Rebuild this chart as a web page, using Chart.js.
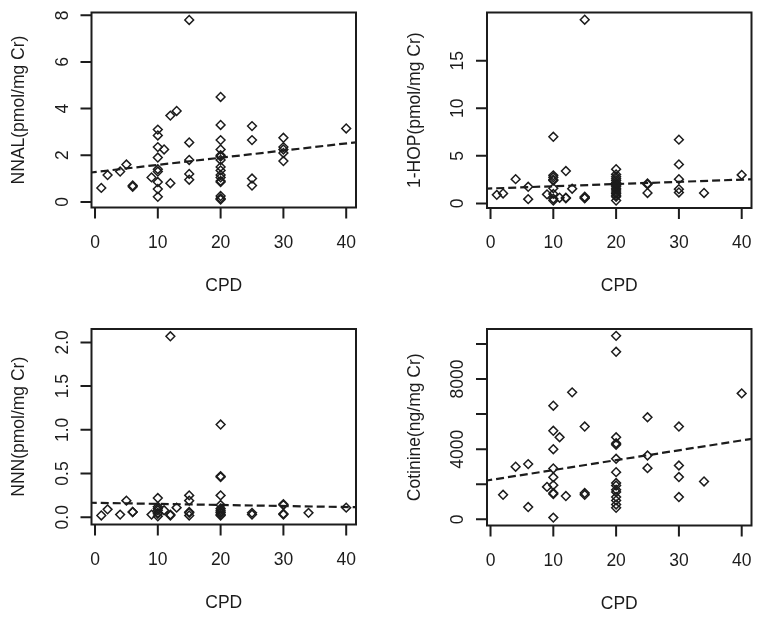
<!DOCTYPE html>
<html>
<head>
<meta charset="utf-8">
<script src="https://cdn.jsdelivr.net/npm/chart.js@4.4.0/dist/chart.umd.min.js"></script>
<style>
  body { margin: 0; background: #fff; }
  #wrap { position: relative; width: 762px; height: 617px; }
  canvas { position: absolute; }
</style>
</head>
<body>
<div id="wrap">
  <canvas id="nnal" width="381" height="308" style="left:0;top:0"></canvas>
  <canvas id="hop" width="381" height="308" style="left:381px;top:0"></canvas>
  <canvas id="nnn" width="381" height="309" style="left:0;top:308px"></canvas>
  <canvas id="cot" width="381" height="309" style="left:381px;top:308px"></canvas>
</div>
<script>
// shared x axis (cigarettes per day)
const xTicks = [0, 10, 20, 30, 40];
const xTickLabels = ['0', '10', '20', '30', '40'];
const xLimits = [-0.56, 41.56];
const trendX = [-1, 43];

// NNAL
const nnalCpd = [1, 2, 4, 5, 6, 6, 9,
  10, 10, 10, 10, 10, 10, 10, 10, 10,
  11, 12, 12, 13,
  15, 15, 15, 15, 15,
  20, 20, 20, 20, 20, 20, 20, 20, 20, 20, 20, 20, 20, 20, 20, 20,
  25, 25, 25, 25,
  30, 30, 30, 30, 30,
  40];
const nnalValues = [0.6, 1.15, 1.3, 1.6, 0.65, 0.7, 1.05,
  3.1, 2.85, 2.35, 1.9, 1.4, 1.3, 0.85, 0.55, 0.22,
  2.25, 3.7, 0.8, 3.9,
  7.8, 2.55, 1.8, 1.2, 0.95,
  4.5, 3.3, 2.65, 2.25, 2.0, 1.95, 1.8, 1.5, 1.35, 1.15, 1.05, 0.9, 0.85, 0.25, 0.15, 0.1,
  3.25, 2.65, 1.0, 0.7,
  2.75, 2.35, 2.25, 2.1, 1.75,
  3.15];
const nnalTrend = [1.25, 2.6];
const nnalTicks = [0, 2, 4, 6, 8];
const nnalTickLabels = ['0', '2', '4', '6', '8'];
const nnalLimits = [-0.24, 8.12];

// 1-HOP
const hopCpd = [1, 2, 4, 6, 6, 9,
  10, 10, 10, 10, 10, 10, 10, 10, 10,
  11, 12, 12, 12, 13,
  15, 15, 15, 15,
  20, 20, 20, 20, 20, 20, 20, 20, 20, 20, 20, 20, 20, 20, 20, 20,
  25, 25, 25,
  30, 30, 30, 30, 30,
  34, 40];
const hopValues = [0.9, 1.05, 2.55, 1.75, 0.45, 0.95,
  7.0, 2.95, 2.75, 2.5, 2.4, 1.6, 1.0, 0.5, 0.3,
  0.6, 3.4, 0.6, 0.55, 1.55,
  19.3, 0.7, 0.6, 0.55,
  3.6, 3.05, 2.8, 2.6, 2.4, 2.2, 2.05, 1.9, 1.75, 1.55, 1.4, 1.2, 1.05, 0.85, 0.7, 0.3,
  2.1, 2.0, 1.1,
  6.7, 4.1, 2.55, 1.5, 1.15,
  1.1, 3.0];
const hopTrend = [1.55, 2.57];
const hopTicks = [0, 5, 10, 15];
const hopTickLabels = ['0', '5', '10', '15'];
const hopLimits = [-0.48, 20.06];

// NNN
const nnnCpd = [1, 2, 4, 5, 6, 6, 9,
  10, 10, 10, 10, 10, 10, 10,
  11, 12, 12, 12, 13,
  15, 15, 15, 15, 15,
  20, 20, 20, 20, 20, 20, 20, 20, 20, 20, 20,
  25, 25,
  30, 30, 30, 30,
  34, 40];
const nnnValues = [0.02, 0.09, 0.03, 0.19, 0.06, 0.06, 0.03,
  0.22, 0.12, 0.1, 0.08, 0.05, 0.04, 0.01,
  0.08, 2.07, 0.03, 0.02, 0.11,
  0.25, 0.19, 0.06, 0.05, 0.02,
  1.06, 0.47, 0.46, 0.25, 0.14, 0.1, 0.08, 0.06, 0.05, 0.03, 0.02,
  0.05, 0.03,
  0.15, 0.14, 0.04, 0.03,
  0.05, 0.11];
const nnnTrend = [0.166, 0.113];
const nnnTicks = [0, 0.5, 1, 1.5, 2];
const nnnTickLabels = ['0.0', '0.5', '1.0', '1.5', '2.0'];
const nnnLimits = [-0.083, 2.153];

// Cotinine
const cotCpd = [2, 4, 6, 6, 9,
  10, 10, 10, 10, 10, 10, 10, 10, 10,
  11, 12, 13,
  15, 15, 15,
  20, 20, 20, 20, 20, 20, 20, 20, 20, 20, 20, 20, 20, 20, 20,
  25, 25, 25,
  30, 30, 30, 30,
  34, 40];
const cotValues = [1400, 3000, 3150, 700, 1850,
  6480, 5050, 4000, 2900, 2400, 1950, 1500, 1450, 100,
  4680, 1330, 7240,
  5290, 1500, 1400,
  10460, 9550, 4680, 4340, 4250, 3450, 2690, 2070, 1930, 1690, 1560, 1270, 1080, 850, 660,
  5820, 3640, 2920,
  5290, 3070, 2410, 1270,
  2160, 7180];
const cotTrend = [2190, 4670];
const cotTicks = [0, 2000, 4000, 6000, 8000, 10000];
const cotTickLabels = ['0', '', '4000', '', '8000', ''];
const cotLimits = [-350, 10850];

const INK = '#1c1c1c';
const FONT = '17.5px "Liberation Sans", Arial, sans-serif';

// base-R style frame: box, outward ticks, rotated y labels
const rAxes = {
  id: 'rAxes',
  afterDraw(chart, args, opts) {
    const ctx = chart.ctx;
    const { left, right, top, bottom } = chart.chartArea;
    const xs = chart.scales.x;
    const ys = chart.scales.y;
    ctx.save();
    ctx.strokeStyle = INK;
    ctx.fillStyle = INK;
    ctx.lineWidth = 2;
    ctx.strokeRect(left, top, right - left, bottom - top);

    ctx.beginPath();
    xTicks.forEach(v => {
      const px = xs.getPixelForValue(v);
      ctx.moveTo(px, bottom);
      ctx.lineTo(px, bottom + 11);
    });
    opts.ticks.forEach(v => {
      const py = ys.getPixelForValue(v);
      ctx.moveTo(left, py);
      ctx.lineTo(left - 11, py);
    });
    ctx.stroke();

    ctx.font = FONT;
    ctx.textAlign = 'center';
    ctx.textBaseline = 'alphabetic';
    xTickLabels.forEach((t, i) => ctx.fillText(t, xs.getPixelForValue(xTicks[i]), bottom + 40));
    ctx.fillText('CPD', (left + right) / 2, bottom + 83);

    opts.labels.forEach((t, i) => {
      if (!t) return;
      ctx.save();
      ctx.translate(left - 24, ys.getPixelForValue(opts.ticks[i]));
      ctx.rotate(-Math.PI / 2);
      ctx.fillText(t, 0, 0);
      ctx.restore();
    });

    ctx.translate(left - 72, (top + bottom) / 2);
    ctx.rotate(-Math.PI / 2);
    ctx.textBaseline = 'middle';
    ctx.fillText(opts.title, 0, 0);
    ctx.restore();
  }
};

const makePanel = (id, cpd, values, trend, limits, ticks, labels, title, padding) => {
  const points = cpd.map((c, i) => ({ x: c, y: values[i] }));
  const line = trendX.map((c, i) => ({ x: c, y: trend[i] }));
  return new Chart(document.getElementById(id), {
    type: 'scatter',
    data: {
      datasets: [{
        data: points,
        pointStyle: 'rectRot',
        pointRadius: 4.4,
        pointHoverRadius: 4.4,
        borderColor: INK,
        borderWidth: 1.5,
        backgroundColor: 'rgba(0,0,0,0)'
      }, {
        data: line,
        showLine: true,
        borderColor: INK,
        borderWidth: 2.2,
        borderDash: [8, 4],
        pointRadius: 0,
        fill: false
      }]
    },
    options: {
      responsive: false,
      animation: false,
      events: [],
      layout: { padding: padding },
      plugins: {
        legend: { display: false },
        tooltip: { enabled: false },
        rAxes: { ticks: ticks, labels: labels, title: title }
      },
      scales: {
        x: { type: 'linear', min: xLimits[0], max: xLimits[1], display: false },
        y: { type: 'linear', min: limits[0], max: limits[1], display: false }
      }
    },
    plugins: [rAxes]
  });
};

makePanel('nnal', nnalCpd, nnalValues, nnalTrend, nnalLimits, nnalTicks, nnalTickLabels,
  'NNAL(pmol/mg Cr)', { left: 91.5, top: 12.5, right: 25, bottom: 100.5 });
makePanel('hop', hopCpd, hopValues, hopTrend, hopLimits, hopTicks, hopTickLabels,
  '1-HOP(pmol/mg Cr)', { left: 106, top: 12.5, right: 10.5, bottom: 100 });
makePanel('nnn', nnnCpd, nnnValues, nnnTrend, nnnLimits, nnnTicks, nnnTickLabels,
  'NNN(pmol/mg Cr)', { left: 91.5, top: 21, right: 25, bottom: 92.5 });
makePanel('cot', cotCpd, cotValues, cotTrend, cotLimits, cotTicks, cotTickLabels,
  'Cotinine(ng/mg Cr)', { left: 106, top: 21, right: 10.5, bottom: 91.5 });
</script>
</body>
</html>
